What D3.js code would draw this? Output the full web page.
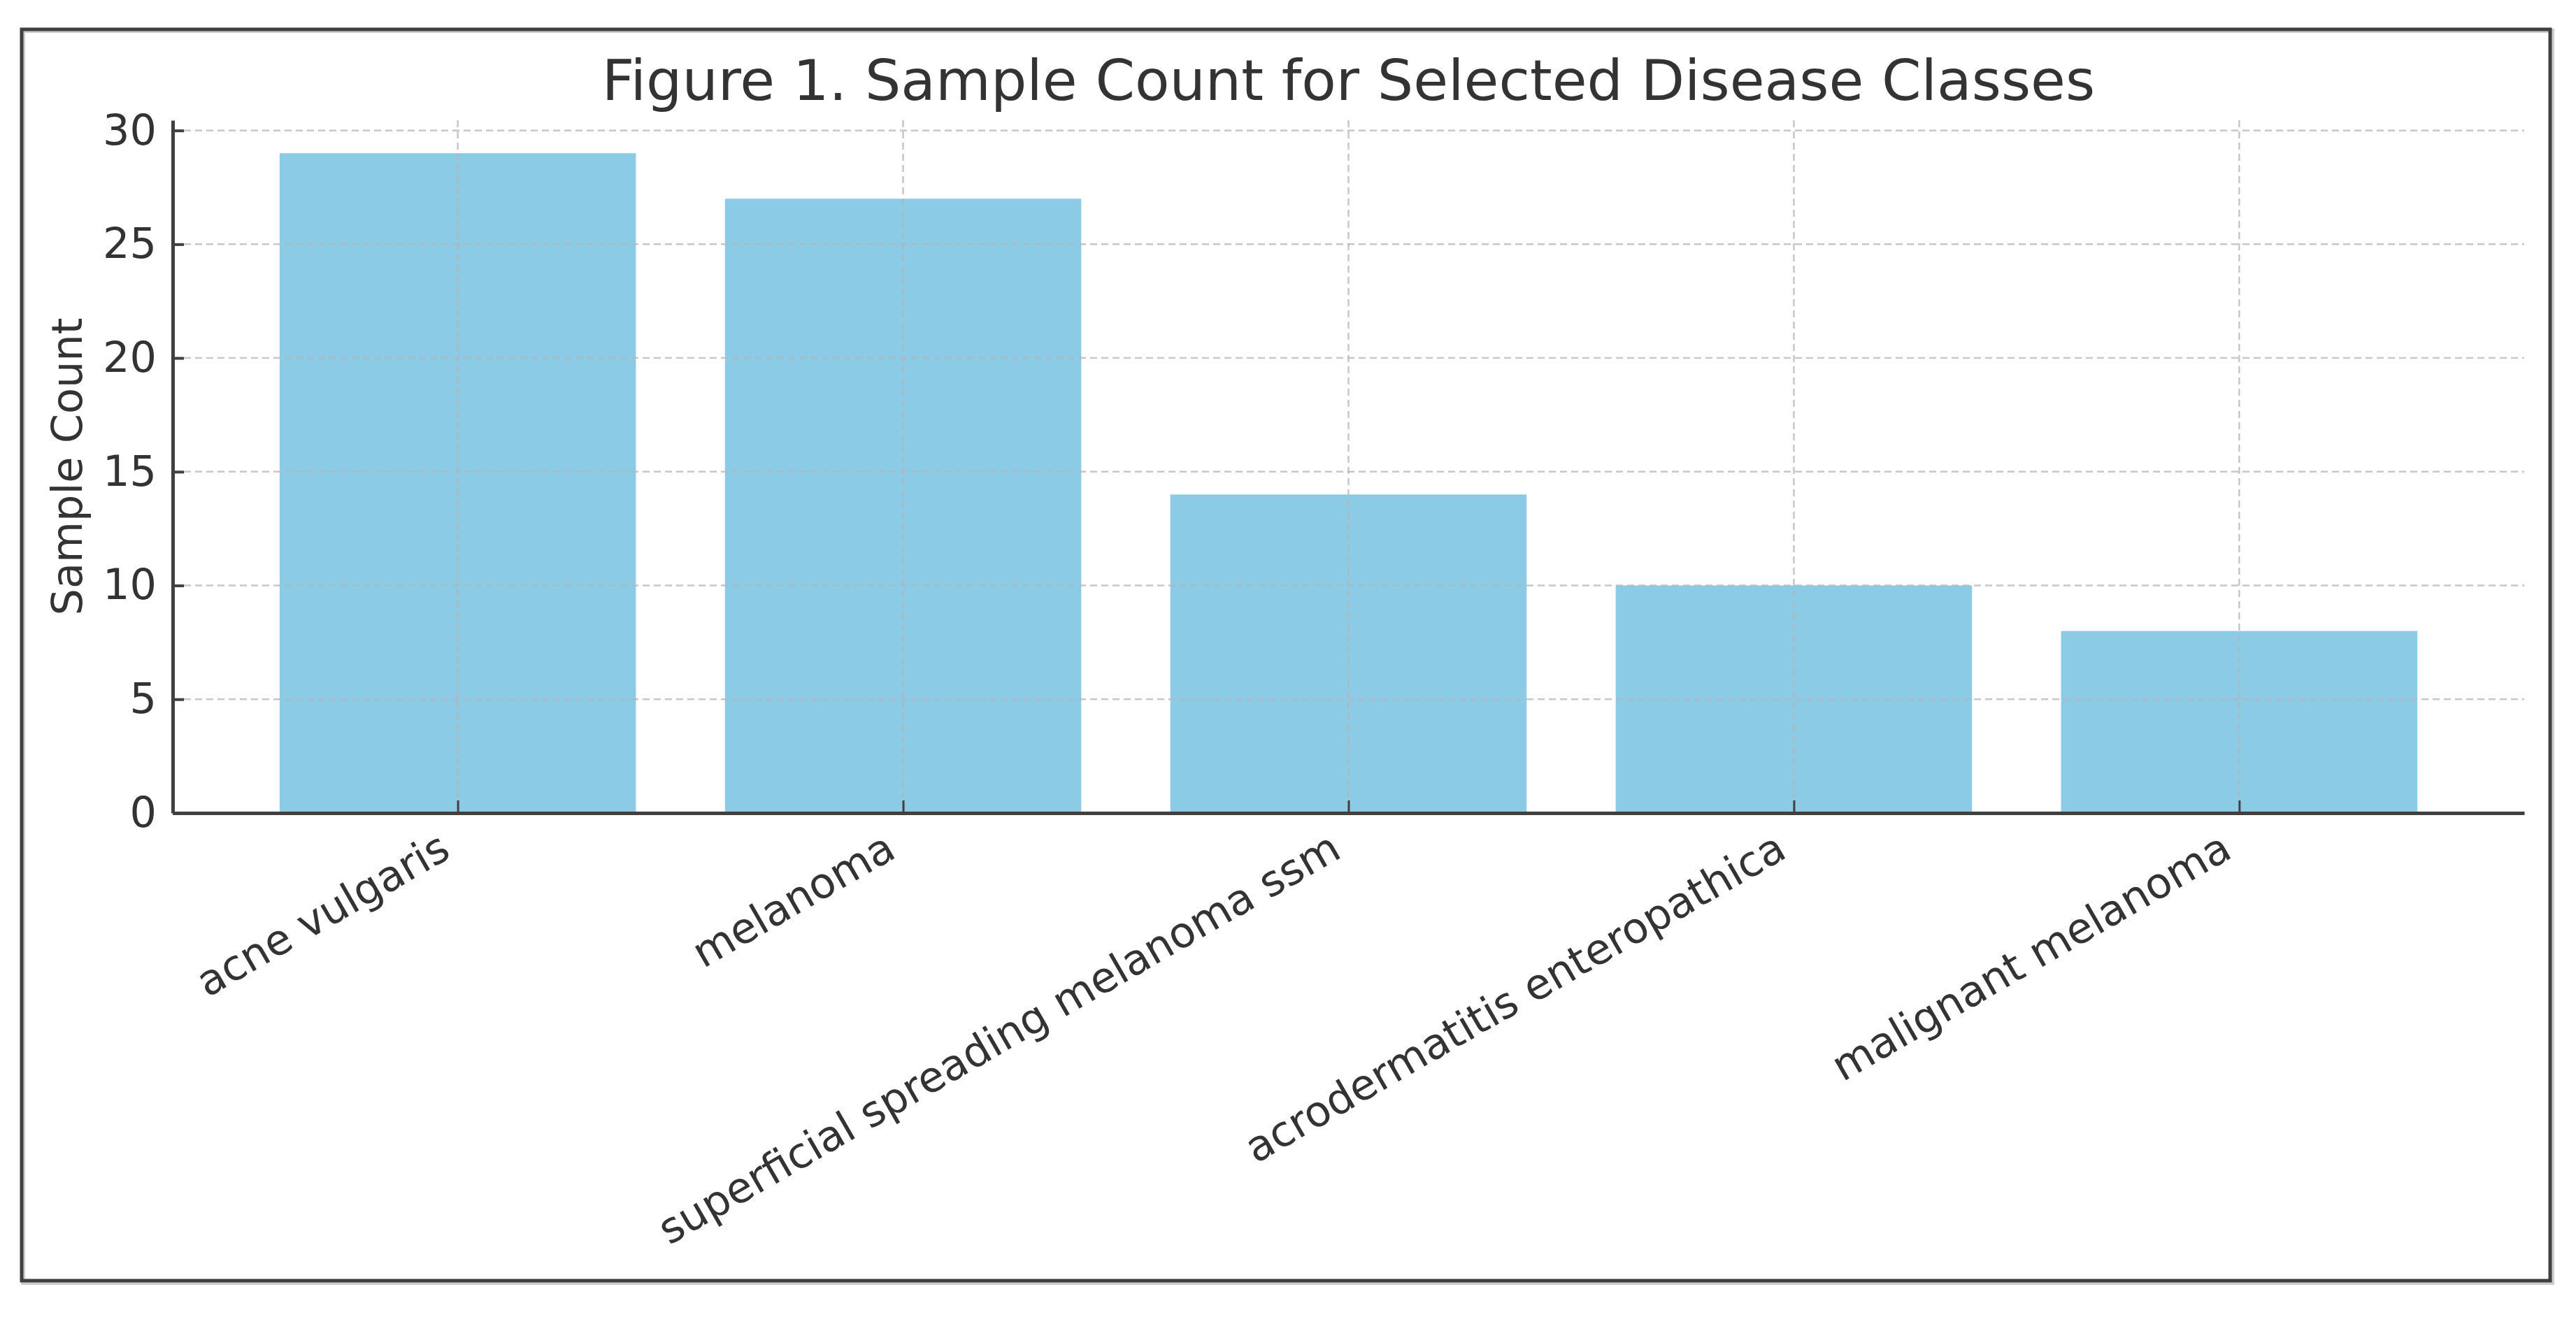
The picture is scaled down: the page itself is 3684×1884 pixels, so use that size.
<!DOCTYPE html>
<html>
<head>
<meta charset="utf-8">
<script src="https://cdn.jsdelivr.net/npm/d3@7"></script>
<style>
  html, body { margin: 0; padding: 0; background: #ffffff; }
  svg { display: block; }
</style>
</head>
<body>
<script>
const categories = ["acne vulgaris", "melanoma", "superficial spreading melanoma ssm", "acrodermatitis enteropathica", "malignant melanoma"];
const sampleCounts = [29, 27, 14, 10, 8];
const yTickValues = [0, 5, 10, 15, 20, 25, 30];
const titleText = "Figure 1. Sample Count for Selected Disease Classes";
const yLabelText = "Sample Count";

const W = 3684, H = 1884;
const plot = { left: 247, right: 3610, top: 172, bottom: 1163 };
const font = "'DejaVu Sans', 'Liberation Sans', sans-serif";
const textColor = "#333333";
const tickFont = 60.5;

const svg = d3.select("body").append("svg")
  .attr("width", W).attr("height", H)
  .attr("viewBox", `0 0 ${W} ${H}`);

svg.append("rect").attr("width", W).attr("height", H).attr("fill", "#ffffff");

// outer frame with faint shadow
svg.append("rect")
  .attr("x", 33).attr("y", 44).attr("width", 3617).attr("height", 1791)
  .attr("fill", "none").attr("stroke", "#cccccc").attr("stroke-width", 6);
svg.append("rect")
  .attr("x", 31).attr("y", 42).attr("width", 3616).attr("height", 1790)
  .attr("fill", "none").attr("stroke", "#404040").attr("stroke-width", 5);

const n = categories.length;
const x = d3.scaleLinear()
  .domain([-0.4 - 0.05 * (n - 0.2), (n - 1) + 0.4 + 0.05 * (n - 0.2)])
  .range([plot.left, plot.right]);
const yMax = d3.max(sampleCounts) * 1.05;
const y = d3.scaleLinear().domain([0, yMax]).range([plot.bottom, plot.top]);
const barHalf = x(0.4) - x(0);

// bars
svg.append("g").selectAll("rect")
  .data(sampleCounts)
  .join("rect")
  .attr("x", (d, i) => x(i) - barHalf)
  .attr("width", barHalf * 2)
  .attr("y", d => y(d))
  .attr("height", d => y(0) - y(d))
  .attr("fill", "#8ccbe6");

// grid (on top of bars)
const grid = svg.append("g")
  .attr("stroke", "#b4b4b4").attr("stroke-opacity", 0.75)
  .attr("stroke-width", 2.5).attr("stroke-dasharray", "10,6");
grid.selectAll("line.h").data(yTickValues).join("line").attr("class", "h")
  .attr("x1", plot.left).attr("x2", plot.right)
  .attr("y1", d => y(d)).attr("y2", d => y(d));
grid.selectAll("line.v").data(d3.range(n)).join("line").attr("class", "v")
  .attr("x1", d => x(d)).attr("x2", d => x(d))
  .attr("y1", plot.top).attr("y2", plot.bottom);

// y axis
const yAxis = svg.append("g")
  .attr("transform", `translate(${plot.left},0)`)
  .call(d3.axisLeft(y).tickValues(yTickValues).tickSizeInner(-16).tickSizeOuter(0).tickPadding(23));
yAxis.select(".domain").attr("stroke", "#404040").attr("stroke-width", 5);
yAxis.selectAll(".tick line").attr("stroke", "#404040").attr("stroke-width", 4);
yAxis.selectAll(".tick text")
  .attr("font-family", font).attr("font-size", tickFont).attr("fill", textColor);

// x axis
const xAxis = svg.append("g")
  .attr("transform", `translate(0,${plot.bottom})`)
  .call(d3.axisBottom(x).tickValues(d3.range(n)).tickFormat(i => categories[i])
    .tickSizeInner(-18).tickSizeOuter(0));
xAxis.select(".domain").attr("stroke", "#404040").attr("stroke-width", 5);
xAxis.selectAll(".tick line").attr("stroke", "#404040").attr("stroke-width", 3);
xAxis.selectAll(".tick text")
  .attr("font-family", font).attr("font-size", tickFont).attr("fill", textColor)
  .attr("x", 0).attr("y", 0).attr("dy", 0)
  .attr("text-anchor", "end")
  .attr("transform", "translate(-8,62) rotate(-30)");

// y label
svg.append("text")
  .attr("transform", `translate(117,${(plot.top + plot.bottom) / 2}) rotate(-90)`)
  .attr("text-anchor", "middle")
  .attr("font-family", font).attr("font-size", tickFont).attr("fill", textColor)
  .text(yLabelText);

// title
svg.append("text")
  .attr("x", (plot.left + plot.right) / 2).attr("y", 143)
  .attr("text-anchor", "middle")
  .attr("font-family", font).attr("font-size", 81).attr("fill", textColor)
  .text(titleText);
</script>
</body>
</html>
